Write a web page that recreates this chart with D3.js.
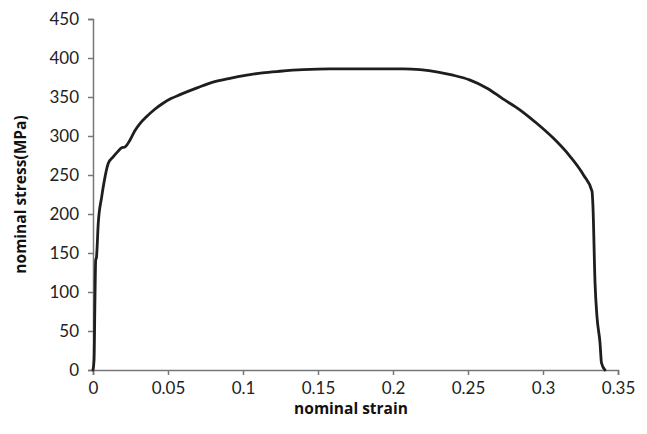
<!DOCTYPE html>
<html>
<head>
<meta charset="utf-8">
<script src="https://cdn.jsdelivr.net/npm/d3@7"></script>
<style>
  body { margin: 0; background: #fff; }
  svg { display: block; }
  .tick text { font-family: Lato, "Open Sans", sans-serif; font-size: 17px; fill: #222; }
  .title { font-family: "Open Sans", Lato, sans-serif; font-size: 15.5px; font-weight: bold; fill: #111; }
</style>
</head>
<body>
<div id="chart"></div>
<script>
// strain-stress curve
let strain = [0, 0.0007, 0.0013, 0.0018, 0.0023, 0.0035, 0.0058, 0.0073, 0.0102, 0.0133,
  0.0165, 0.0191, 0.0213, 0.0247, 0.028, 0.0313, 0.0358, 0.041, 0.0467, 0.052, 0.058, 0.0698, 0.08, 0.0913,
  0.1025, 0.113, 0.1247, 0.14, 0.158, 0.18, 0.207, 0.218, 0.23, 0.24, 0.251,
  0.263, 0.273, 0.285, 0.296, 0.307, 0.318, 0.327, 0.3327, 0.3333, 0.3347,
  0.336, 0.338, 0.339, 0.3413];
let stress = [0, 13, 90, 141, 144, 188, 222, 240, 265, 273,
  280, 285, 286, 295, 307, 316, 325, 334, 342, 348, 353, 362, 369, 374,
  378, 381, 383, 385, 386, 386, 386, 385, 382, 378, 372,
  361, 348, 333, 316, 297, 274, 250, 229, 210, 111,
  68, 35, 9, 0];

let xTicks = [0, 0.05, 0.1, 0.15, 0.2, 0.25, 0.3, 0.35];
let yTicks = [0, 50, 100, 150, 200, 250, 300, 350, 400, 450];

let width = 647;
let height = 434;
let margin = { top: 19, right: 29, bottom: 64, left: 93 };

let data = strain.map((s, i) => ({ strain: s, stress: stress[i] }));

let x = d3.scaleLinear()
  .domain([0, 0.35])
  .range([margin.left, width - margin.right]);

let y = d3.scaleLinear()
  .domain([0, 450])
  .range([height - margin.bottom, margin.top]);

const svg = d3.select('#chart').append('svg')
  .attr('width', width)
  .attr('height', height);

// x轴
let xAxis = g => g
  .attr('transform', `translate(0, ${height - margin.bottom})`)
  .call(d3.axisBottom(x).tickValues(xTicks).tickSizeOuter(0).tickSize(5).tickPadding(7)
    .tickFormat(d => d === 0 ? '0' : String(+d.toFixed(2))))
  .call(g => g.selectAll('.domain, .tick line').attr('stroke', '#777').attr('stroke-width', 1.5));

// y轴
let yAxis = g => g
  .attr('transform', `translate(${margin.left}, 0)`)
  .call(d3.axisLeft(y).tickValues(yTicks).tickSizeOuter(0).tickSize(5).tickPadding(9))
  .call(g => g.selectAll('.domain, .tick line').attr('stroke', '#777').attr('stroke-width', 1.5));

svg.append('g').call(xAxis);
svg.append('g').call(yAxis);

svg.selectAll('.tick text').attr('font-family', null).attr('font-size', null);

let line = d3.line()
  .curve(d3.curveMonotoneX)
  .x(d => x(d.strain))
  .y(d => y(d.stress));

svg.append('path')
  .datum(data)
  .attr('fill', 'none')
  .attr('stroke', '#1e1e1e')
  .attr('stroke-width', 2.8)
  .attr('stroke-linejoin', 'round')
  .attr('stroke-linecap', 'round')
  .attr('d', line);

svg.append('text')
  .attr('class', 'title')
  .attr('x', 351)
  .attr('y', 414)
  .attr('text-anchor', 'middle')
  .text('nominal strain');

svg.append('text')
  .attr('class', 'title')
  .attr('transform', `translate(26, ${(margin.top + height - margin.bottom) / 2}) rotate(-90)`)
  .attr('text-anchor', 'middle')
  .text('nominal stress(MPa)');
</script>
</body>
</html>
